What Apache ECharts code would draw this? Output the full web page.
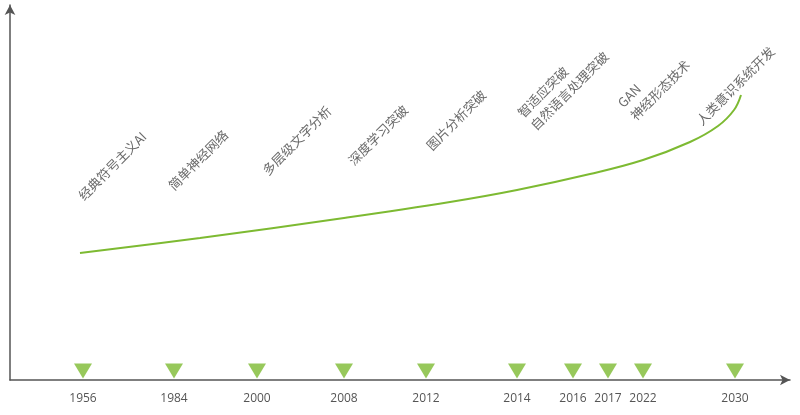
<!DOCTYPE html><html><head><meta charset="utf-8"><script src="https://cdn.jsdelivr.net/npm/echarts@6/dist/echarts.min.js"></script></head><body style="margin:0"><div id="c" style="width:800px;height:415px"></div><script>
const years=['1956','1984','2000','2008','2012','2014','2016','2017','2022','2030'];
const yearPos=[83,174,257,344,426,517,573,608,643,735];
const curveX=[80,200,344,450,517,590,643,690,718,734,741];
const curveY=[127,142,162,178,190,206,220,238,254,270,285];
const milestones=['经典符号主义AI','简单神经网络','多层级文字分析','深度学习突破','图片分析突破','智适应突破\n自然语言处理突破','GAN\n神经形态技术','人类意识系统开发'];
const msX=[87,177,271,357,435,539,639,705];
const msY=[176,186,201,211,226,246,256,251];
const green='#7dba32';
const ch=echarts.init(document.getElementById('c'));
ch.setOption({
 grid:{left:10,right:10,top:5,bottom:35},
 xAxis:{type:'value',min:10,max:790,splitLine:{show:false},axisTick:{show:false},
  axisLine:{lineStyle:{color:'#555',width:1.5},symbol:['none','arrow'],symbolSize:[8,10]},
  axisLabel:{customValues:yearPos,formatter:v=>years[yearPos.indexOf(v)]||'',color:'#555',fontSize:12,margin:13,fontFamily:'Open Sans'}},
 yAxis:{type:'value',min:0,max:375,splitLine:{show:false},axisTick:{show:false},axisLabel:{show:false},
  axisLine:{show:true,lineStyle:{color:'#555',width:1.5},symbol:['none','arrow'],symbolSize:[8,10]}},
 series:[
  {type:'line',data:curveX.map((x,i)=>[x,curveY[i]]),smooth:0.4,symbol:'none',lineStyle:{color:green,width:2}},
  {type:'scatter',data:yearPos.map(x=>[x,9]),symbol:'triangle',symbolRotate:180,symbolSize:[18,15],itemStyle:{color:green}},
  {type:'scatter',data:msX.map((x,i)=>[x,msY[i]]),symbolSize:0,clip:false,
   label:{show:true,position:[0,0],formatter:p=>milestones[p.dataIndex],rotate:45,align:'left',verticalAlign:'bottom',color:'#444',fontSize:13,lineHeight:18,fontFamily:'Noto Sans CJK SC'}}
 ]});
</script></body></html>
